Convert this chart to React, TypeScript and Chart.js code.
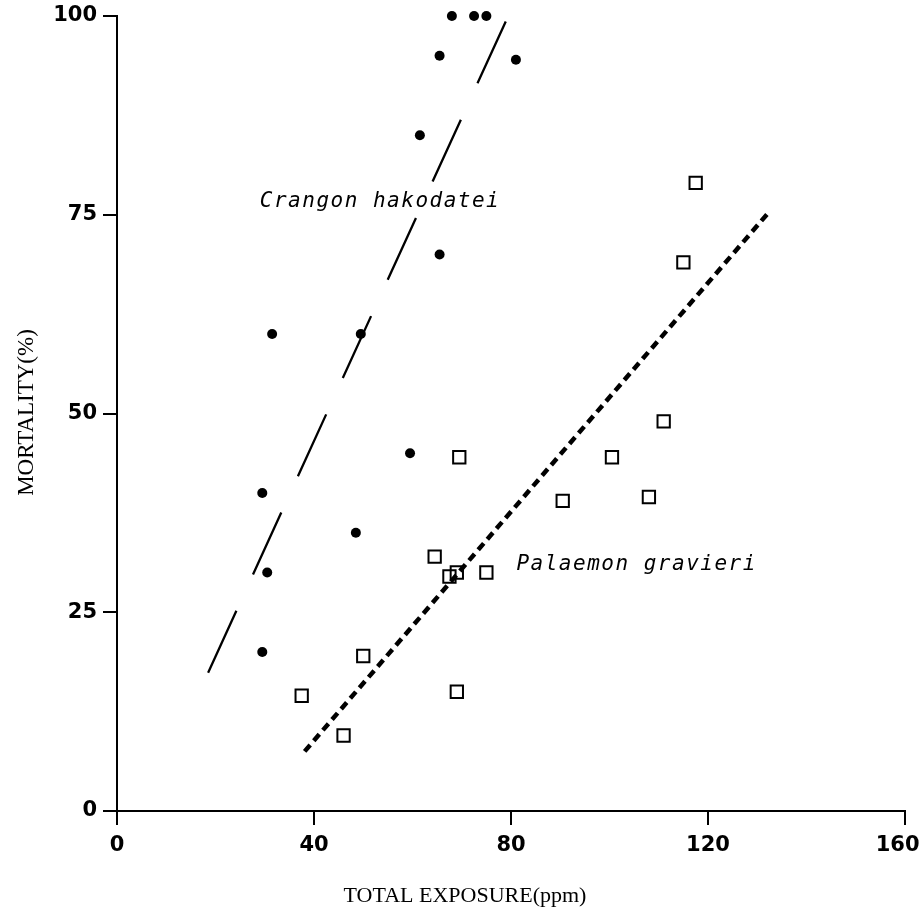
import React, { useEffect, useRef } from 'react';
import { Chart, registerables } from 'chart.js';

Chart.register(...registerables);

// ---- Data ----
const crangonX = [68, 72.5, 75, 65.5, 81, 61.5, 65.5, 31.5, 49.5, 59.5, 29.5, 48.5, 30.5, 29.5];
const crangonY = [100, 100, 100, 95, 94.5, 85, 70, 60, 60, 45, 40, 35, 30, 20];

const palaemonX = [69.5, 64.5, 67.5, 69, 75, 117.5, 115, 111, 100.5, 90.5, 108, 37.5, 50, 46, 69];
const palaemonY = [44.5, 32, 29.5, 30, 30, 79, 69, 49, 44.5, 39, 39.5, 14.5, 19.5, 9.5, 15];

// regression lines (end points)
const crangonFitX = [18.5, 79];
const crangonFitY = [17.4, 99.4];
const palaemonFitX = [38.1, 132.6];
const palaemonFitY = [7.5, 75.5];

// axis ticks
const xTicks = [0, 40, 80, 120, 160];
const yTicks = [0, 25, 50, 75, 100];

// labels
const speciesNames = ['Crangon hakodatei', 'Palaemon gravieri'];
const speciesLabelX = [29, 81.1];
const speciesLabelY = [76, 30.3];

const xTitle = 'TOTAL EXPOSURE(ppm)';
const yTitle = 'MORTALITY(%)';

const toPoints = (xs: number[], ys: number[]) => xs.map((x, i) => ({ x, y: ys[i] }));

const textPlugin = {
  id: 'refText',
  afterDatasetsDraw(chart: any) {
    const { ctx, chartArea, scales } = chart;
    const xs = scales.x;
    const ys = scales.y;
    ctx.save();
    ctx.fillStyle = '#000';
    // species labels
    ctx.font = 'italic 21px "DejaVu Sans Mono"';
    (ctx as any).letterSpacing = '1.5px';
    ctx.textAlign = 'left';
    ctx.textBaseline = 'alphabetic';
    speciesNames.forEach((name, i) => {
      ctx.fillText(name, xs.getPixelForValue(speciesLabelX[i]), ys.getPixelForValue(speciesLabelY[i]));
    });
    (ctx as any).letterSpacing = '0px';
    // x-axis title
    ctx.font = '22px "Liberation Serif"';
    ctx.textAlign = 'center';
    ctx.fillText(xTitle, chartArea.left + 348, chartArea.bottom + 91);
    // y-axis title
    ctx.font = '23px "Liberation Serif"';
    ctx.translate(chartArea.left - 84, (chartArea.top + chartArea.bottom) / 2 - 1);
    ctx.rotate(-Math.PI / 2);
    ctx.fillText(yTitle, 0, 0);
    ctx.restore();
  },
};

export default function App() {
  const ref = useRef<HTMLCanvasElement>(null);

  useEffect(() => {
    document.body.style.margin = '0';
    const tickFont = { family: '"DejaVu Sans"', size: 21, weight: 'bold' as const };
    const chart = new Chart(ref.current!, {
      type: 'scatter',
      data: {
        datasets: [
          {
            label: 'Crangon hakodatei',
            data: toPoints(crangonX, crangonY),
            pointStyle: 'circle',
            pointRadius: 5,
            backgroundColor: '#000',
            borderColor: '#000',
            borderWidth: 0,
            clip: false,
          },
          {
            label: 'Palaemon gravieri',
            data: toPoints(palaemonX, palaemonY),
            pointStyle: 'rect',
            pointRadius: 8.7,
            backgroundColor: 'rgba(0,0,0,0)',
            borderColor: '#000',
            borderWidth: 2,
            clip: false,
          },
          {
            label: 'Crangon fit',
            data: toPoints(crangonFitX, crangonFitY),
            showLine: true,
            pointRadius: 0,
            borderColor: '#000',
            borderWidth: 2.3,
            borderDash: [68, 40],
            borderCapStyle: 'butt',
          },
          {
            label: 'Palaemon fit',
            data: toPoints(palaemonFitX, palaemonFitY),
            showLine: true,
            pointRadius: 0,
            borderColor: '#000',
            borderWidth: 4.5,
            borderDash: [8.5, 5.5],
            borderCapStyle: 'butt',
          },
        ],
      },
      options: {
        responsive: false,
        animation: false,
        devicePixelRatio: 1,
        layout: { padding: { left: 0, top: 16, right: 19, bottom: 0 } },
        plugins: {
          legend: { display: false },
          tooltip: { enabled: false },
        },
        scales: {
          x: {
            type: 'linear',
            min: 0,
            max: 160,
            afterBuildTicks: (s: any) => {
              s.ticks = xTicks.map((v) => ({ value: v }));
            },
            ticks: {
              font: tickFont,
              color: '#000',
              padding: 8,
              maxRotation: 0,
              autoSkip: false,
              // the last label sits a little left of its tick in the reference
              callback: (v: any) => (v === 160 ? String(v) + '\u2002\u2009' : String(v)),
            },
            grid: { drawOnChartArea: false, drawTicks: true, tickLength: 14, color: '#000', lineWidth: 2 },
            border: { display: true, color: '#000', width: 2 },
            afterFit: (s: any) => {
              s.height = 112;
              s.paddingLeft = 0;
              s.paddingRight = 0;
              s.paddingTop = 0;
              s.paddingBottom = 0;
            },
          },
          y: {
            type: 'linear',
            min: 0,
            max: 100,
            afterBuildTicks: (s: any) => {
              s.ticks = yTicks.map((v) => ({ value: v }));
            },
            ticks: { font: tickFont, color: '#000', padding: 6, autoSkip: false },
            grid: { drawOnChartArea: false, drawTicks: true, tickLength: 14, color: '#000', lineWidth: 2 },
            border: { display: true, color: '#000', width: 2 },
            afterFit: (s: any) => {
              s.width = 117;
              s.paddingLeft = 0;
              s.paddingRight = 0;
              s.paddingTop = 0;
              s.paddingBottom = 0;
            },
          },
        },
      },
      plugins: [textPlugin],
    } as any);
    return () => chart.destroy();
  }, []);

  return (
    <div style={{ position: 'fixed', left: 0, top: 0, width: 924, height: 923, background: '#fff' }}>
      <canvas ref={ref} width={924} height={923} style={{ display: 'block', width: 924, height: 923 }} />
    </div>
  );
}
